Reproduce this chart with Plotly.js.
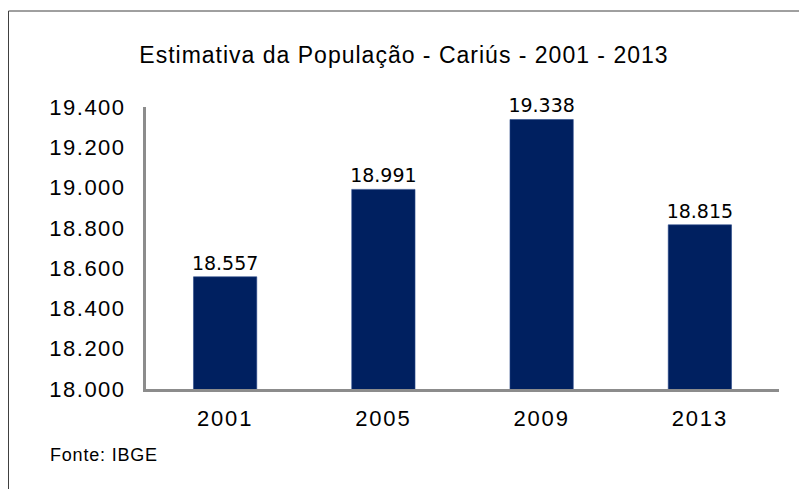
<!DOCTYPE html>
<html>
<head>
<meta charset="utf-8">
<script src="https://cdn.plot.ly/plotly-3.0.1.min.js"></script>
<style>
html, body { margin: 0; padding: 0; background: #fff; }
#chart { width: 799px; height: 489px; }
.ytick text { letter-spacing: 1.5px; }
.xtick text { letter-spacing: 1.8px; }
.gtitle { letter-spacing: 1px; }
.annotation-text { letter-spacing: 0.8px; }
</style>
</head>
<body>
<div id="chart"></div>
<script>
const categories = ["2001", "2005", "2009", "2013"];
const populacao = [18557, 18991, 19338, 18815];
const yTickVals = [18000, 18200, 18400, 18600, 18800, 19000, 19200, 19400];
const yTickText = ["18.000", "18.200", "18.400", "18.600", "18.800", "19.000", "19.200", "19.400"];
const titleText = "Estimativa da População - Cariús - 2001 - 2013";
const sourceText = "Fonte: IBGE";

const trace = {
  type: "bar",
  x: categories,
  y: populacao,
  base: 0,
  marker: { color: "#002060", line: { color: "#2a4a8a", width: 0.6 } },
  text: populacao.map(v => v.toLocaleString("pt-BR")),
  textposition: "outside",
  constraintext: "none",
  textfont: { family: "DejaVu Sans", size: 19, color: "#000" },
  cliponaxis: false,
  hoverinfo: "skip"
};

const layout = {
  width: 799,
  height: 489,
  margin: { l: 146, r: 20, t: 107, b: 100 },
  paper_bgcolor: "#fff",
  plot_bgcolor: "#fff",
  separators: ",.",
  showlegend: false,
  bargap: 0.6,
  title: {
    text: titleText,
    font: { family: "Liberation Sans", size: 23, color: "#000" },
    xref: "container", x: 0.5056, xanchor: "center",
    yref: "container", y: 0.8875, yanchor: "middle"
  },
  xaxis: {
    type: "category",
    showgrid: false,
    showline: true,
    linecolor: "#8c8c8c",
    linewidth: 3,
    ticks: "",
    ticklabelstandoff: 8,
    tickfont: { family: "Liberation Sans", size: 22, color: "#000" },
    fixedrange: true
  },
  yaxis: {
    range: [18000, 19400],
    tickvals: yTickVals,
    ticktext: yTickText,
    showgrid: false,
    zeroline: false,
    showline: true,
    linecolor: "#8c8c8c",
    linewidth: 3,
    ticks: "",
    ticklabelstandoff: 13,
    tickfont: { family: "Liberation Sans", size: 22, color: "#000" },
    fixedrange: true
  },
  annotations: [{
    text: sourceText,
    xref: "paper", yref: "paper",
    x: (48 - 146) / 633, y: (389 - 455) / 282,
    xanchor: "left", yanchor: "middle",
    showarrow: false,
    font: { family: "Liberation Sans", size: 18, color: "#000" }
  }],
  shapes: [
    { type: "line", xref: "paper", yref: "paper",
      x0: (8.5 - 146) / 633, x1: (8.5 - 146) / 633,
      y0: (389 - 11) / 282, y1: (389 - 495) / 282,
      line: { color: "#404040", width: 1 } },
    { type: "line", xref: "paper", yref: "paper",
      x0: (8.5 - 146) / 633, x1: (805 - 146) / 633,
      y0: (389 - 11) / 282, y1: (389 - 11) / 282,
      line: { color: "#404040", width: 1 } }
  ]
};

Plotly.newPlot("chart", [trace], layout, { staticPlot: true, displayModeBar: false });
</script>
</body>
</html>
